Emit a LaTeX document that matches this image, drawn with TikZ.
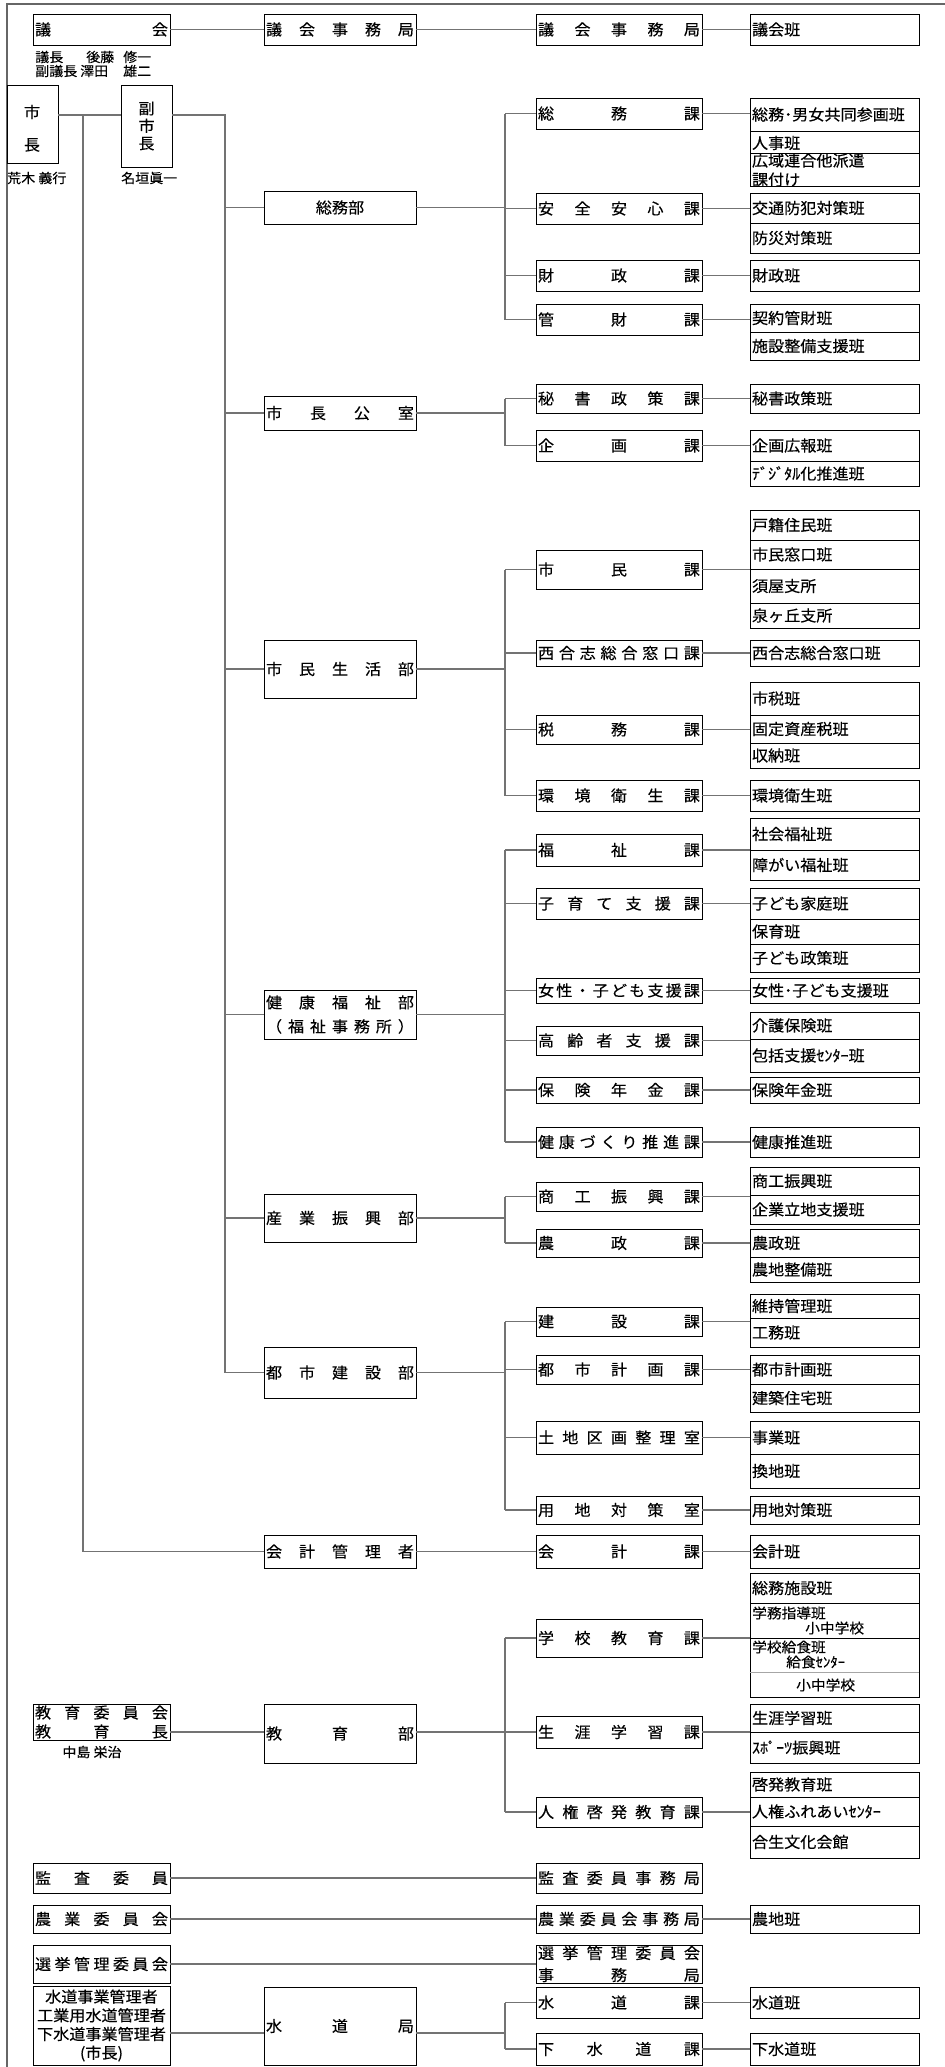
\documentclass[tikz,border=0pt]{standalone}
\usepackage{fontspec}
\setmainfont{Noto Sans CJK JP}[FakeStretch=1.05,FakeBold=0.3]
\usetikzlibrary{calc}
\def\spreadchars#1{\spreadA#1\relax}
\def\spreadA#1{\ifx#1\relax\else#1\expandafter\spreadB\fi}
\def\spreadB#1{\ifx#1\relax\else\hfill#1\expandafter\spreadB\fi}
\newcommand\dA[1]{\hbox to 99.75pt{\spreadchars{#1}}}
\newcommand\dB[1]{\hbox to 111pt{\spreadchars{#1}}}
\newcommand\dC[1]{\hbox to 121.5pt{\spreadchars{#1}}}
\newcommand\tD[1]{\hbox to 123.75pt{#1\hfill}}
\newcommand\ctr[1]{\hbox to 99.75pt{\hfil#1\hfil}}
\newcommand\twolines[3]{\vbox{\baselineskip=#3\lineskiplimit=-30pt\relax#1#2}}
\newcommand\obox[7][box]{%
  \pgfmathsetmacro\bxw{(#5-#3)*0.75}%
  \pgfmathsetmacro\bxh{(#6-#4)*0.75}%
  \node[#1,minimum width=\bxw pt,minimum height=\bxh pt] (#2) at ({(#3+#5)/2},{(#4+#6)/2}) {#7};}
\tikzset{
  box/.style={draw=black,line width=0.6pt,fill=white,inner sep=0pt,font=\fontsize{11.5}{13.5}\selectfont},
  conn/.style={draw=black!55,line width=0.9pt},
  frame/.style={draw=black!60,line width=0.8pt},
  thinsep/.style={draw=black!35,line width=0.5pt},
  txt/.style={inner sep=0pt,font=\fontsize{11.5}{13.5}\selectfont},
  sub/.style={inner sep=0pt,font=\fontsize{10.5}{12}\selectfont},
  small/.style={inner sep=0pt,font=\fontsize{10}{12}\selectfont}
}
\begin{document}
\begin{tikzpicture}[x=0.75pt,y=-0.75pt]
\useasboundingbox (0,0) rectangle (945,2067);
\draw[frame] (7,2067) -- (7,4) -- (945,4);
% ---------- 議会
\obox{gikai}{33}{14}{170}{45}{\dA{議会}}
\obox{gjimuB}{264}{14}{416}{45}{\dB{議会事務局}}
\obox{gjimuC}{536}{14}{702}{45}{\dC{議会事務局}}
\obox{gihan}{750}{14}{919}{45}{\tD{議会班}}
\node[small,anchor=west] (gichou) at (35,57) {\makebox[38.25pt][l]{議長}\makebox[27.75pt][l]{後藤}修一};
\node[small,anchor=west] (fukugichou) at (35,71) {\makebox[33.75pt][l]{副議長}\makebox[32.25pt][l]{澤田}雄二};
% ---------- 市長・副市長
\obox{shichou}{7}{85}{58}{163}{}
\node[txt] (shichouA) at (32,112) {市};
\node[txt] (shichouB) at (32,145) {長};
\obox[box,align=center,font=\fontsize{11.5}{13.1}\selectfont]{fuku}{121}{85}{172}{167}{副\\市\\長}
\node[small,anchor=west] (araki) at (7,178) {荒木 義行};
\node[small,anchor=west] (nagaki) at (121,178) {名垣眞一};
% ---------- 総務部
\obox{soumubu}{264}{191}{416}{224}{総務部}
\obox{soumuka}{536}{98}{702}{129}{\dC{総務課}}
\obox{anzen}{536}{193}{702}{224}{\dC{安全安心課}}
\obox{zaisei}{536}{260}{702}{291}{\dC{財政課}}
\obox{kanzai}{536}{304}{702}{335}{\dC{管財課}}
\obox{danjo}{750}{98}{919}{131}{\tD{総務･男女共同参画班}}
\obox{jinji}{750}{131}{919}{155}{\tD{人事班}}
\obox{kouiki}{750}{155}{919}{185}{\twolines{\tD{広域連合他派遣}}{\tD{課付け}}{14.25pt}}
\obox{koutsuu}{750}{193}{919}{223}{\tD{交通防犯対策班}}
\obox{bousai}{750}{223}{919}{253}{\tD{防災対策班}}
\obox{zaiseihan}{750}{260}{919}{291}{\tD{財政班}}
\obox{keiyaku}{750}{304}{919}{332}{\tD{契約管財班}}
\obox{shisetsu}{750}{332}{919}{360}{\tD{施設整備支援班}}
% ---------- 市長公室
\obox{koushitsu}{264}{396}{416}{430}{\dB{市長公室}}
\obox{hisho}{536}{384}{702}{413}{\dC{秘書政策課}}
\obox{kikaku}{536}{430}{702}{461}{\dC{企画課}}
\obox{hishohan}{750}{384}{919}{413}{\tD{秘書政策班}}
\obox{kouhou}{750}{430}{919}{461}{\tD{企画広報班}}
\obox{digital}{750}{461}{919}{486}{\tD{ﾃﾞｼﾞﾀﾙ化推進班}}
% ---------- 市民生活部
\obox{seikatsu}{264}{640}{416}{698}{\dB{市民生活部}}
\obox{shiminka}{536}{550}{702}{589}{\dC{市民課}}
\obox{nishika}{536}{640}{702}{666}{\dC{西合志総合窓口課}}
\obox{zeimu}{536}{715}{702}{744}{\dC{税務課}}
\obox{kankyou}{536}{780}{702}{811}{\dC{環境衛生課}}
\obox{koseki}{750}{510}{919}{540}{\tD{戸籍住民班}}
\obox{madoguchi}{750}{540}{919}{569}{\tD{市民窓口班}}
\obox{suya}{750}{569}{919}{603}{\tD{須屋支所}}
\obox{izumi}{750}{603}{919}{628}{\tD{泉ヶ丘支所}}
\obox{nishihan}{750}{640}{919}{666}{\tD{西合志総合窓口班}}
\obox{shizei}{750}{682}{919}{715}{\tD{市税班}}
\obox{kotei}{750}{715}{919}{743}{\tD{固定資産税班}}
\obox{shuunou}{750}{743}{919}{768}{\tD{収納班}}
\obox{kankyouhan}{750}{780}{919}{811}{\tD{環境衛生班}}
% ---------- 健康福祉部
\obox{kenkou}{264}{990}{416}{1039}{\twolines{\dB{健康福祉部}}{\dB{（福祉事務所）}}{18pt}}
\obox{fukushi}{536}{834}{702}{866}{\dC{福祉課}}
\obox{kosodate}{536}{888}{702}{919}{\dC{子育て支援課}}
\obox{josei}{536}{978}{702}{1003}{\dC{女性・子ども支援課}}
\obox{koureisha}{536}{1026}{702}{1055}{\dC{高齢者支援課}}
\obox{hoken}{536}{1077}{702}{1103}{\dC{保険年金課}}
\obox{zukuri}{536}{1127}{702}{1157}{\dC{健康づくり推進課}}
\obox{shakai}{750}{818}{919}{850}{\tD{社会福祉班}}
\obox{shougaifuku}{750}{850}{919}{880}{\tD{障がい福祉班}}
\obox{katei}{750}{888}{919}{919}{\tD{子ども家庭班}}
\obox{hoiku}{750}{919}{919}{944}{\tD{保育班}}
\obox{kseisaku}{750}{944}{919}{972}{\tD{子ども政策班}}
\obox{joseihan}{750}{978}{919}{1003}{\tD{女性･子ども支援班}}
\obox{kaigo}{750}{1012}{919}{1039}{\tD{介護保険班}}
\obox{houkatsu}{750}{1039}{919}{1072}{\tD{包括支援ｾﾝﾀｰ班}}
\obox{hokenhan}{750}{1077}{919}{1103}{\tD{保険年金班}}
\obox{suishin}{750}{1127}{919}{1157}{\tD{健康推進班}}
% ---------- 産業振興部
\obox{sangyou}{264}{1194}{416}{1242}{\dB{産業振興部}}
\obox{shoukou}{536}{1182}{702}{1211}{\dC{商工振興課}}
\obox{nousei}{536}{1229}{702}{1257}{\dC{農政課}}
\obox{shoukouhan}{750}{1167}{919}{1195}{\tD{商工振興班}}
\obox{kigyou}{750}{1195}{919}{1224}{\tD{企業立地支援班}}
\obox{nouseihan}{750}{1229}{919}{1257}{\tD{農政班}}
\obox{nouchiseibi}{750}{1257}{919}{1282}{\tD{農地整備班}}
% ---------- 都市建設部
\obox{toshi}{264}{1347}{416}{1398}{\dB{都市建設部}}
\obox{kensetsu}{536}{1307}{702}{1336}{\dC{建設課}}
\obox{keikaku}{536}{1355}{702}{1384}{\dC{都市計画課}}
\obox{tochi}{536}{1421}{702}{1454}{\dC{土地区画整理室}}
\obox{youchi}{536}{1496}{702}{1524}{\dC{用地対策室}}
\obox{iji}{750}{1294}{919}{1318}{\tD{維持管理班}}
\obox{koumu}{750}{1318}{919}{1347}{\tD{工務班}}
\obox{keikakuhan}{750}{1355}{919}{1384}{\tD{都市計画班}}
\obox{kenchiku}{750}{1384}{919}{1412}{\tD{建築住宅班}}
\obox{jigyou}{750}{1421}{919}{1454}{\tD{事業班}}
\obox{kanchi}{750}{1454}{919}{1488}{\tD{換地班}}
\obox{youchihan}{750}{1496}{919}{1524}{\tD{用地対策班}}
% ---------- 会計
\obox{kaikeikan}{264}{1535}{416}{1568}{\dB{会計管理者}}
\obox{kaikeika}{536}{1535}{702}{1568}{\dC{会計課}}
\obox{kaikeihan}{750}{1535}{919}{1568}{\tD{会計班}}
% ---------- 教育
\obox{iinkai}{33}{1704}{170}{1740}{\twolines{\dA{教育委員会}}{\dA{教育長}}{14.25pt}}
\node[small] (nakashima) at (92,1752) {中島 栄治};
\obox{kyouikubu}{264}{1704}{416}{1763}{\dB{教育部}}
\obox{gakkou}{536}{1619}{702}{1657}{\dC{学校教育課}}
\obox{shougai}{536}{1716}{702}{1748}{\dC{生涯学習課}}
\obox{jinken}{536}{1797}{702}{1827}{\dC{人権啓発教育課}}
\obox{soumushisetsu}{750}{1573}{919}{1603}{\tD{総務施設班}}
\obox{gakumu}{750}{1603}{919}{1638}{}
\node[sub,anchor=west] (gakumuA) at (752,1613) {学務指導班};
\node[sub,anchor=west] (gakumuB) at (805,1628) {小中学校};
\obox{kyuushoku}{750}{1638}{919}{1697}{}
\node[sub,anchor=west] (kyuA) at (752,1647) {学校給食班};
\node[sub,anchor=west] (kyuB) at (786,1662) {給食ｾﾝﾀｰ};
\node[sub,anchor=west] (kyuC) at (796,1685) {小中学校};
\coordinate (r1670) at (0,1672);
\draw[thinsep] (kyuushoku.west |- r1670) -- (kyuushoku.east |- r1670);
\obox{shougaihan}{750}{1704}{919}{1732}{\tD{生涯学習班}}
\obox{sports}{750}{1732}{919}{1763}{\tD{ｽﾎﾟｰﾂ振興班}}
\obox{keihatsu}{750}{1772}{919}{1797}{\tD{啓発教育班}}
\obox{fureai}{750}{1797}{919}{1826}{\tD{人権ふれあいｾﾝﾀｰ}}
\obox{gousei}{750}{1826}{919}{1858}{\tD{合生文化会館}}
% ---------- 委員会・水道
\obox{kansa}{33}{1863}{170}{1893}{\dA{監査委員}}
\obox{kansajimu}{536}{1863}{702}{1893}{\dC{監査委員事務局}}
\obox{nougyou}{33}{1905}{170}{1933}{\dA{農業委員会}}
\obox{nougyoujimu}{536}{1905}{702}{1933}{\dC{農業委員会事務局}}
\obox{nouchihan}{750}{1905}{919}{1933}{\tD{農地班}}
\obox{senkyo}{33}{1945}{170}{1983}{\dA{選挙管理委員会}}
\obox{senkyojimu}{536}{1945}{702}{1983}{\twolines{\dC{選挙管理委員会}}{\dC{事務局}}{16.5pt}}
\obox{suidoukanri}{33}{1986}{170}{2065}{\vbox{\baselineskip=14pt\lineskiplimit=-30pt\relax\ctr{水道事業管理者}\ctr{工業用水道管理者}\ctr{下水道事業管理者}\ctr{(市長)}}}
\obox{suidoukyoku}{264}{1987}{416}{2065}{\dB{水道局}}
\obox{suidouka}{536}{1987}{702}{2018}{\dC{水道課}}
\obox{gesuidou}{536}{2033}{702}{2065}{\dC{下水道課}}
\obox{suidouhan}{750}{1987}{919}{2018}{\tD{水道班}}
\obox{gesuidouhan}{750}{2033}{919}{2065}{\tD{下水道班}}
% ---------- connectors
\coordinate (xA) at (83,0);
\coordinate (xB) at (225,0);
\coordinate (xC) at (505,0);
\coordinate (r115) at (0,115);
\coordinate (r1732) at (0,1732);
\coordinate (r2033) at (0,2033);
\draw[conn] (gikai.east) -- (gjimuB.west);
\draw[conn] (gjimuB.east) -- (gjimuC.west);
\draw[conn] (gjimuC.east) -- (gihan.west);
\draw[conn] (shichou.east |- r115) -- (fuku.west |- r115);
\draw[conn] (xA |- r115) -- (xA |- kaikeikan.west) -- (kaikeikan.west);
\draw[conn] (fuku.east |- r115) -- (xB |- r115) -- (xB |- toshi.west);
\foreach \dn in {soumubu,koushitsu,seikatsu,kenkou,sangyou,toshi}{
  \draw[conn] (xB |- \dn.west) -- (\dn.west);
  \draw[conn] (\dn.east) -- (xC |- \dn.east);
}
\draw[conn] (xC |- soumuka.west) -- (xC |- kanzai.west);
\draw[conn] (xC |- hisho.west) -- (xC |- kikaku.west);
\draw[conn] (xC |- shiminka.west) -- (xC |- kankyou.west);
\draw[conn] (xC |- fukushi.west) -- (xC |- zukuri.west);
\draw[conn] (xC |- shoukou.west) -- (xC |- nousei.west);
\draw[conn] (xC |- kensetsu.west) -- (xC |- youchi.west);
\draw[conn] (xC |- gakkou.west) -- (xC |- jinken.west);
\draw[conn] (xC |- suidouka.west) -- (xC |- gesuidou.west);
\foreach \kn in {soumuka,anzen,zaisei,kanzai,hisho,kikaku,shiminka,nishika,zeimu,kankyou,fukushi,kosodate,josei,koureisha,hoken,zukuri,shoukou,nousei,kensetsu,keikaku,tochi,youchi,gakkou,shougai,jinken,suidouka,gesuidou}
  \draw[conn] (xC |- \kn.west) -- (\kn.west);
\foreach \p/\q in {soumuka/danjo,anzen/koutsuu,zaisei/zaiseihan,kanzai/keiyaku,hisho/hishohan,kikaku/kouhou,shiminka/madoguchi,nishika/nishihan,zeimu/kotei,kankyou/kankyouhan,fukushi/shakai,kosodate/katei,josei/joseihan,koureisha/kaigo,hoken/hokenhan,zukuri/suishin,shoukou/shoukouhan,nousei/nouseihan,kensetsu/iji,keikaku/keikakuhan,tochi/jigyou,youchi/youchihan,kaikeika/kaikeihan,gakkou/gakumu,shougai/shougaihan,jinken/fureai,nougyoujimu/nouchihan,suidouka/suidouhan,gesuidou/gesuidouhan}
  \draw[conn] (\p.east) -- (\p.east -| \q.west);
\draw[conn] (kaikeikan.east) -- (kaikeika.west);
\draw[conn] (iinkai.east |- r1732) -- (kyouikubu.west |- r1732);
\draw[conn] (kyouikubu.east |- r1732) -- (xC |- r1732);
\draw[conn] (kansa.east) -- (kansajimu.west);
\draw[conn] (nougyou.east) -- (nougyoujimu.west);
\draw[conn] (senkyo.east) -- (senkyojimu.west);
\draw[conn] (suidoukanri.east |- r2033) -- (suidoukyoku.west |- r2033);
\draw[conn] (suidoukyoku.east |- r2033) -- (xC |- r2033);
\end{tikzpicture}
\end{document}
